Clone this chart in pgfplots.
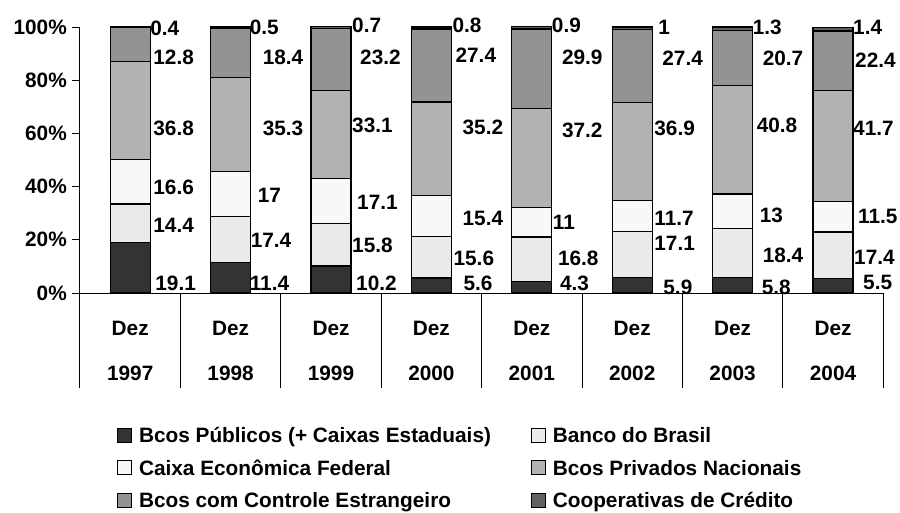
\documentclass[border=0pt]{standalone}
\usepackage{pgfplots}
\pgfplotsset{compat=1.18}
\usepackage{pgfplotstable}
\usepackage{fontspec}
\setmainfont{Liberation Sans}
\definecolor{cPub}{HTML}{333333}
\definecolor{cBB}{HTML}{EAEAEA}
\definecolor{cCEF}{HTML}{F8F8F8}
\definecolor{cPriv}{HTML}{B2B2B2}
\definecolor{cEstr}{HTML}{939393}
\definecolor{cCoop}{HTML}{606060}
\newcommand{\bigf}{\fontsize{20.8bp}{25bp}\selectfont\bfseries}

\pgfplotstableread{
x pub bb cef priv estr coop
0 19.1 14.4 16.6 36.8 12.8 0.4
1 11.4 17.4 17 35.3 18.4 0.5
2 10.2 15.8 17.1 33.1 23.2 0.7
3 5.6 15.6 15.4 35.2 27.4 0.8
4 4.3 16.8 11 37.2 29.9 0.9
5 5.9 17.1 11.7 36.9 27.4 1
6 5.8 18.4 13 40.8 20.7 1.3
7 5.5 17.4 11.5 41.7 22.4 1.4
}\shares

\pgfplotstableread{
x y lab
0.199 99.6 0.4
0.229 88.7 12.8
0.229 62.0 36.8
0.229 39.8 16.6
0.229 25.6 14.4
0.249 3.8 19.1
1.189 100 0.5
1.319 88.7 18.4
1.319 62.0 35.3
1.269 36.8 17
1.199 19.9 17.4
1.189 3.8 11.4
2.209 100.75 0.7
2.289 88.7 23.2
2.209 63.2 33.1
2.259 34.2 17.1
2.209 18.0 15.8
2.249 3.8 10.2
3.209 100.75 0.8
3.239 89.5 27.4
3.309 62.4 35.2
3.309 28.2 15.4
3.219 13.2 15.6
3.319 3.8 5.6
4.199 100.75 0.9
4.299 88.7 29.9
4.299 61.3 37.2
4.209 26.7 11
4.259 13.2 16.8
4.279 3.8 4.3
5.259 100 1
5.299 88.3 27.4
5.219 62.0 36.9
5.219 28.2 11.7
5.219 18.8 17.1
5.309 2.3 5.9
6.199 100 1.3
6.299 88.3 20.7
6.239 63.2 40.8
6.269 29.3 13
6.299 14.3 18.4
6.289 2.3 5.8
7.199 100 1.4
7.219 87.6 22.4
7.199 62.0 41.7
7.249 28.6 11.5
7.209 13.5 17.4
7.299 3.8 5.5
}\labels

\begin{document}
\begin{tikzpicture}
\path[use as bounding box] (-80bp,-220bp) rectangle (820bp,293bp);
\begin{axis}[
  at={(0,0)}, anchor=south west,
  x=100.4bp, y=2.66bp,
  xmin=-0.5, xmax=7.5, ymin=0, ymax=100,
  ybar stacked, bar width=40bp,
  clip=false,
  axis x line*=bottom, axis y line*=left,
  axis line style={-, line width=1bp, black},
  tick align=outside,
  major tick length=8bp,
  tick style={line width=1bp, black},
  xtick={-0.5,0.5,...,7.5},
  xtick style={/pgfplots/major tick length=95bp},
  x tick label as interval,
  xticklabels={{Dez\\1997},{Dez\\1998},{Dez\\1999},{Dez\\2000},{Dez\\2001},{Dez\\2002},{Dez\\2003},{Dez\\2004}},
  xticklabel style={font=\fontsize{20.8bp}{45bp}\selectfont\bfseries, align=center, anchor=north, inner sep=0pt, yshift=-19.5bp},
  ytick={0,20,...,100},
  yticklabels={0\%,20\%,40\%,60\%,80\%,100\%},
  yticklabel style={font=\bigf, anchor=east, inner sep=0pt, xshift=-5bp},
  every axis plot/.append style={draw=black, line width=1.3bp},
  legend columns=2,
  legend image code/.code={\draw[#1, draw=black, line width=0.8bp] (0bp,-7bp) rectangle (14bp,7bp);},
  legend style={at={(0.0461,-0.5056)}, anchor=north west, draw=none, fill=none,
    font=\bigf, inner sep=0pt, column sep=7bp, row sep=17.5bp,
    nodes={inner sep=0pt, text height=15bp, text depth=0bp},
    cells={anchor=west},
    /tikz/every even column/.append style={column sep=40bp}},
]
\addplot[fill=cPub] table[x=x, y=pub] {\shares};
\addplot[fill=cBB] table[x=x, y=bb] {\shares};
\addplot[fill=cCEF] table[x=x, y=cef] {\shares};
\addplot[fill=cPriv] table[x=x, y=priv] {\shares};
\addplot[fill=cEstr] table[x=x, y=estr] {\shares};
\addplot[fill=cCoop] table[x=x, y=coop] {\shares};
\legend{Bcos Públicos (+ Caixas Estaduais), Banco do Brasil, Caixa Econômica Federal, Bcos Privados Nacionais, Bcos com Controle Estrangeiro, Cooperativas de Crédito}
\end{axis}
\begin{axis}[
  at={(0,0)}, anchor=south west,
  x=100.4bp, y=2.66bp,
  xmin=-0.5, xmax=7.5, ymin=0, ymax=100,
  hide axis, clip=false,
]
\addplot[only marks, mark=*, mark size=0pt, mark options={draw=none, fill=none},
  nodes near coords, point meta=explicit symbolic,
  nodes near coords style={anchor=west, inner sep=0pt, font=\bigf, text=black}]
  table[x=x, y=y, meta=lab] {\labels};
\end{axis}
\end{tikzpicture}
\end{document}
